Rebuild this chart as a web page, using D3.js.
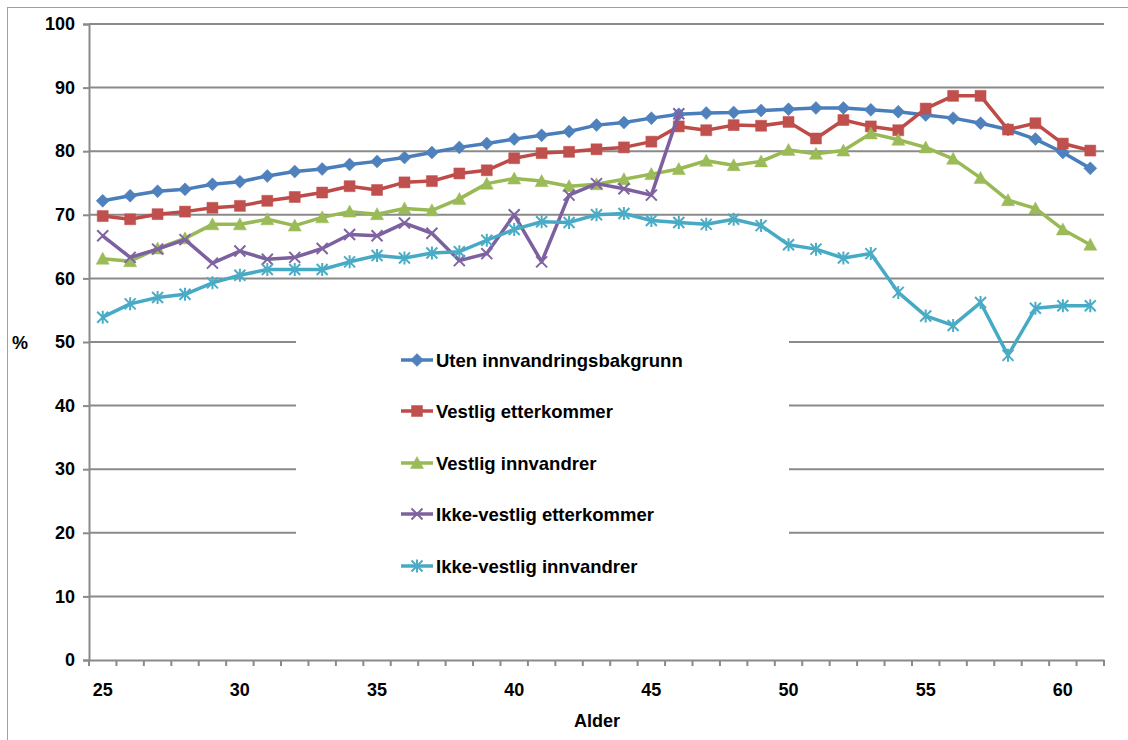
<!DOCTYPE html>
<html><head><meta charset="utf-8">
<script src="https://cdn.jsdelivr.net/npm/d3@7"></script>
<style>html,body{margin:0;padding:0;background:#fff;}svg{display:block;}</style>
</head><body>
<svg id="chart" width="1128" height="740"></svg>
<script>
const ages = d3.range(25, 62);
const seriesNames = ["Uten innvandringsbakgrunn","Vestlig etterkommer","Vestlig innvandrer","Ikke-vestlig etterkommer","Ikke-vestlig innvandrer"];
const utenInnvandringsbakgrunn = [72.2,73.0,73.7,74.0,74.8,75.2,76.1,76.8,77.2,77.9,78.4,79.0,79.8,80.6,81.2,81.9,82.5,83.1,84.1,84.5,85.2,85.8,86.0,86.1,86.4,86.6,86.8,86.8,86.5,86.2,85.7,85.2,84.4,83.4,81.9,79.8,77.3];
const vestligEtterkommer = [69.8,69.3,70.1,70.5,71.1,71.4,72.2,72.8,73.5,74.5,73.9,75.1,75.3,76.5,77.0,78.9,79.7,79.9,80.3,80.6,81.5,83.9,83.3,84.1,84.0,84.6,82.0,84.9,83.9,83.3,86.7,88.7,88.7,83.4,84.4,81.2,80.1];
const vestligInnvandrer = [63.1,62.7,64.7,66.3,68.5,68.5,69.3,68.3,69.6,70.5,70.1,71.0,70.7,72.5,74.9,75.7,75.3,74.5,74.8,75.6,76.4,77.2,78.5,77.8,78.4,80.2,79.6,80.1,82.8,81.8,80.6,78.8,75.8,72.3,71.0,67.7,65.3];
const ikkeVestligEtterkommer = [66.7,63.3,64.6,66.1,62.4,64.3,63.0,63.3,64.7,66.9,66.7,68.7,67.1,62.8,63.9,70.0,62.6,73.1,74.9,74.1,73.1,85.9];
const ikkeVestligInnvandrer = [53.9,56.0,57.0,57.5,59.3,60.5,61.4,61.4,61.4,62.6,63.6,63.2,64.0,64.2,66.0,67.7,68.9,68.8,70.0,70.2,69.1,68.8,68.5,69.3,68.3,65.3,64.6,63.2,63.9,57.8,54.1,52.6,56.2,47.9,55.3,55.7,55.7];
const yTicks = [0,10,20,30,40,50,60,70,80,90,100];
const xTickLabels = [25,30,35,40,45,50,55,60];

const seriesValues = [utenInnvandringsbakgrunn, vestligEtterkommer, vestligInnvandrer, ikkeVestligEtterkommer, ikkeVestligInnvandrer];
const lineColors = ["#4A7EBB","#BE4B48","#98B954","#7D60A0","#46AAC5"];
const markerColors = ["#4F81BD","#C0504D","#9BBB59","#8064A2","#4BACC6"];
const markerTypes = ["diamond","square","triangle","x","star"];

const svg = d3.select("#chart");
const font = "'Liberation Sans', Arial, sans-serif";
const L = 89, R = 1104, T = 24, B = 660;

// outer frame
svg.append("rect").attr("x",7.5).attr("y",7.5).attr("width",1140).attr("height",760)
  .attr("fill","none").attr("stroke","#a0a0a0").attr("stroke-width",1);

const x = d3.scaleBand().domain(ages).range([L, R]).padding(0);
const y = d3.scaleLinear().domain([0,100]).range([B, T]);
const cx = a => x(a) + x.bandwidth()/2;

// gridlines
svg.append("g").selectAll("line").data(yTicks.filter(d=>d>0)).join("line")
  .attr("x1",L).attr("x2",R).attr("y1",d=>y(d)).attr("y2",d=>y(d))
  .attr("stroke","#8a8a8a").attr("stroke-width",2);

// y axis
const yAxis = svg.append("g").attr("transform",`translate(${L},0)`)
  .call(d3.axisLeft(y).tickValues(yTicks).tickSize(6).tickPadding(8));
yAxis.select(".domain").attr("stroke","#8a8a8a").attr("stroke-width",2);
yAxis.selectAll(".tick line").attr("stroke","#8a8a8a").attr("stroke-width",2);
yAxis.selectAll(".tick text").attr("font-family",font).attr("font-size",18).attr("font-weight","bold").attr("fill","#000");

// x axis
const xAxis = svg.append("g").attr("transform",`translate(0,${B})`)
  .call(d3.axisBottom(x).tickSize(0).tickPadding(20).tickFormat(d => xTickLabels.includes(d) ? d : ""));
xAxis.select(".domain").attr("stroke","#8a8a8a").attr("stroke-width",2);
xAxis.selectAll(".tick text").attr("font-family",font).attr("font-size",18).attr("font-weight","bold").attr("fill","#000").attr("dy","0.9em");
// tick marks at band boundaries
const boundaries = ages.map(a => x(a)).concat([R]);
svg.append("g").selectAll("line").data(boundaries).join("line")
  .attr("x1",d=>d).attr("x2",d=>d).attr("y1",B).attr("y2",B+6)
  .attr("stroke","#8a8a8a").attr("stroke-width",2);

// axis titles
svg.append("text").attr("x",20).attr("y",349).attr("text-anchor","middle")
  .attr("font-family",font).attr("font-size",18).attr("font-weight","bold").text("%");
svg.append("text").attr("x",597).attr("y",727).attr("text-anchor","middle")
  .attr("font-family",font).attr("font-size",18).attr("font-weight","bold").text("Alder");

function markerPath(type){
  switch(type){
    case "diamond": return "M0,-6.5L6.5,0L0,6.5L-6.5,0Z";
    case "square": return "M-5.5,-5.5H5.5V5.5H-5.5Z";
    case "triangle": return "M0,-6.5L6.5,5.5L-6.5,5.5Z";
    case "x": return "M-5.5,-5.5L5.5,5.5M-5.5,5.5L5.5,-5.5";
    case "star": return "M-5.5,-5.5L5.5,5.5M-5.5,5.5L5.5,-5.5M0,-6.5V6.5";
  }
}
function drawMarker(sel, type, color){
  const stroke = (type==="x"||type==="star");
  sel.attr("d", markerPath(type))
    .attr("fill", stroke ? "none" : color)
    .attr("stroke", color)
    .attr("stroke-width", stroke ? 2 : 0.5);
}

// legend box
const legX = 296, legY = 332, legW = 493, legH = 256;
svg.append("rect").attr("x",legX).attr("y",legY).attr("width",legW).attr("height",legH).attr("fill","#fff");

// series
const line = d3.line().x((d,i)=>cx(ages[i])).y(d=>y(d));
seriesValues.forEach((vals, si) => {
  const g = svg.append("g");
  g.append("path").attr("d", line(vals)).attr("fill","none")
    .attr("stroke", lineColors[si]).attr("stroke-width",3.5).attr("stroke-linejoin","round");
  g.selectAll("path.m").data(vals).join("path").attr("class","m")
    .attr("transform",(d,i)=>`translate(${cx(ages[i])},${y(d)})`)
    .call(s => drawMarker(s, markerTypes[si], markerColors[si]));
});

// legend
const legYs = [360, 411, 463, 514, 566];
seriesNames.forEach((name, i) => {
  const g = svg.append("g").attr("transform",`translate(0,${legYs[i]})`);
  g.append("line").attr("x1",401).attr("x2",433).attr("y1",0).attr("y2",0)
    .attr("stroke",lineColors[i]).attr("stroke-width",3.5);
  g.append("path").attr("transform","translate(417,0)").call(s=>drawMarker(s, markerTypes[i], markerColors[i]));
  g.append("text").attr("x",436).attr("y",0).attr("dy","0.36em")
    .attr("font-family",font).attr("font-size",18.5).attr("font-weight","bold").attr("fill","#000").text(name);
});
</script>
</body></html>
